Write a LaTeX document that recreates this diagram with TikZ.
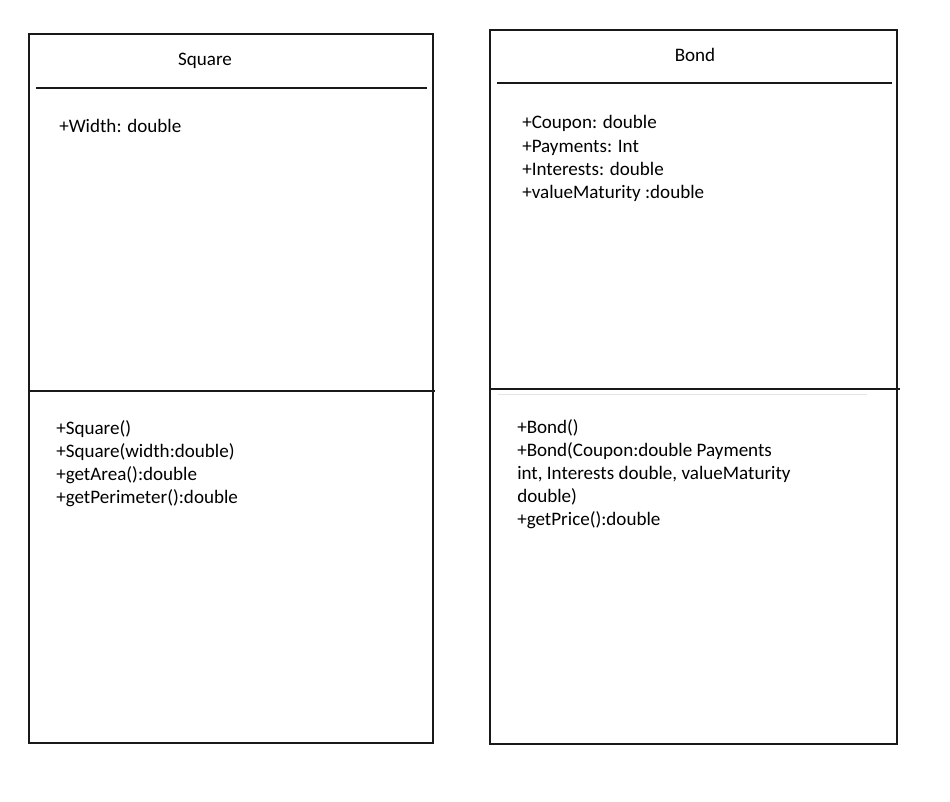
\documentclass[tikz,border=0pt]{standalone}
\usepackage{fontspec}
\setmainfont{Carlito}
\begin{document}
\begin{tikzpicture}[x=0.75pt,y=-0.75pt,
  boxline/.style={draw=black!90, line width=1.6pt},
  sepline/.style={draw=black!90, line width=1.6pt},
  txt/.style={inner sep=0pt, anchor=base west, font=\fontsize{14.3}{17.4}\selectfont},
  ttl/.style={inner sep=0pt, anchor=base, font=\fontsize{14.3}{17.4}\selectfont}]
\useasboundingbox[fill=white] (0,0) rectangle (950,802);
% Square class
\draw[boxline] (29,34) rectangle (433,743);
\draw[sepline] (36,88) -- (427,88);
\draw[sepline] (29,391) -- (435,391);
\node[ttl] (sqt) at (205,66) {Square};
\node[txt] (sqa1) at (59,133) {+Width: double};
\node[txt] (sqm1) at (56,434) {+Square()};
\node[txt] (sqm2) at (56,457.3) {+Square(width:double)};
\node[txt] (sqm3) at (56,480.6) {+getArea():double};
\node[txt] (sqm4) at (56,503.9) {+getPerimeter():double};
% Bond class
\draw[boxline] (490,30) rectangle (897,744);
\draw[sepline] (497,83) -- (892,83);
\draw[sepline] (490,389) -- (900,389);
\draw[gray!20, line width=0.6pt] (498,394) -- (867,394);
\node[ttl] (bdt) at (695,62) {Bond};
\node[txt] (bda1) at (522,129) {+Coupon: double};
\node[txt] (bda2) at (522,152.3) {+Payments: Int};
\node[txt] (bda3) at (522,175.6) {+Interests: double};
\node[txt] (bda4) at (522,198.9) {+valueMaturity :double};
\node[txt] (bdm1) at (517,433) {+Bond()};
\node[txt] (bdm2) at (517,456.2) {+Bond(Coupon:double Payments};
\node[txt] (bdm3) at (517,479.4) {int, Interests double, valueMaturity};
\node[txt] (bdm4) at (517,502.6) {double)};
\node[txt] (bdm5) at (517,525.8) {+getPrice():double};
\end{tikzpicture}
\end{document}
